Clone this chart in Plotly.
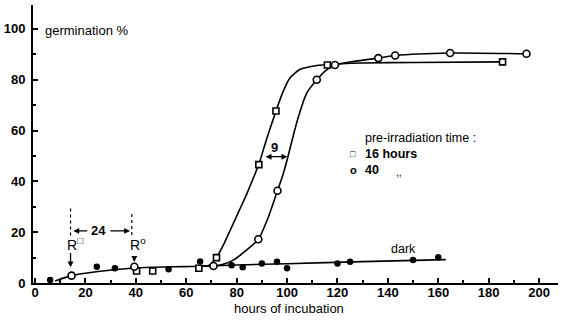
import plotly.graph_objects as go

# ---------------- data ----------------
dark_x = [6, 24.5, 31.7, 53, 65.5, 78, 82.4, 90, 96, 100, 120, 125, 150, 160]
dark_y = [1.2, 6.4, 5.8, 5.4, 8.5, 7, 6.2, 7.7, 8.4, 5.8, 7.7, 8.4, 9.1, 10.1]

sq16_x = [40.3, 46.7, 65, 72, 88.8, 95.6, 116, 185.5]
sq16_y = [4.7, 4.7, 5.8, 10, 46.6, 67.7, 85.8, 87]

c40_x = [14.5, 39.4, 70.8, 88.6, 96.2, 111.8, 119, 136.2, 142.9, 164.7, 195]
c40_y = [2.9, 6.4, 6.7, 17.2, 36.3, 80, 85.8, 88.5, 89.5, 90.5, 90.2]

# hand-drawn curves
base_x = [8, 14.5, 25, 39.4, 47, 55, 62, 66]
base_y = [0.8, 2.9, 4.5, 5.9, 6.2, 6.4, 6.5, 6.6]

dark_line_x = [66, 80, 100, 130, 163]
dark_line_y = [6.6, 7.1, 7.6, 8.4, 9.2]

c16_line_x = [66, 69, 72, 75, 78, 81, 84, 86.5, 88.8, 92, 95.6, 98.5, 101, 105, 110, 116, 130, 150, 185.5]
c16_line_y = [6.6, 6.9, 10, 15.5, 22, 28.5, 35, 41, 46.7, 57, 67.7, 75.5, 80.5, 84, 85.3, 86, 86.6, 86.8, 87]

c40_line_x = [66, 70.8, 75, 78.7, 84, 88.6, 92.6, 96.2, 98.5, 100.3, 103.8, 107.8, 111.8, 115.7, 119, 125, 136.2, 142.9, 164.7, 195]
c40_line_y = [6.6, 6.7, 7.5, 9, 13, 17.2, 26, 36.3, 43, 49.5, 63, 74.7, 80, 83.9, 85.8, 87, 88.5, 89.5, 90.5, 90.2]

x_ticks = [0, 20, 40, 60, 80, 100, 120, 140, 160, 180, 200]
y_ticks = [0, 20, 40, 60, 80, 100]

FONT = "Liberation Sans"
BLACK = "#000000"

fig = go.Figure()

line_style = dict(color=BLACK, width=1.6)
for lx, ly in [(base_x, base_y), (dark_line_x, dark_line_y),
               (c16_line_x, c16_line_y), (c40_line_x, c40_line_y)]:
    fig.add_trace(go.Scatter(x=lx, y=ly, mode="lines", line=dict(shape="spline", smoothing=0.6, **line_style),
                             showlegend=False, hoverinfo="skip", cliponaxis=False))

fig.add_trace(go.Scatter(x=dark_x, y=dark_y, mode="markers", name="dark",
                         marker=dict(symbol="circle", size=6.5, color=BLACK, line=dict(width=0)),
                         showlegend=False, cliponaxis=False))
fig.add_trace(go.Scatter(x=sq16_x, y=sq16_y, mode="markers", name="16 hours",
                         marker=dict(symbol="square", size=6, color="white", line=dict(color=BLACK, width=1.6)),
                         showlegend=False, cliponaxis=False))
fig.add_trace(go.Scatter(x=c40_x, y=c40_y, mode="markers", name="40 hours",
                         marker=dict(symbol="circle", size=7, color="white", line=dict(color=BLACK, width=1.6)),
                         showlegend=False, cliponaxis=False))

ann = []
def txt(x, y, s, size=13, bold=False, xanchor="center", xref="x", yref="y"):
    ann.append(dict(x=x, y=y, xref=xref, yref=yref, text=s, showarrow=False,
                    xanchor=xanchor, yanchor="middle",
                    font=dict(family=FONT, size=size, color=BLACK, weight=700 if bold else 400)))

def arrow(x, y, ax, ay, both=False, width=1.3):
    ann.append(dict(x=x, y=y, ax=ax, ay=ay, xref="x", yref="y", axref="x", ayref="y",
                    text="", showarrow=True, arrowhead=2, arrowsize=0.9, arrowwidth=width,
                    arrowcolor=BLACK, arrowside="end+start" if both else "end", standoff=0, startstandoff=0))

# axis titles
txt(3.2, 99.4, "germination %", size=13, xanchor="left")
txt(100.8, -0.093, "hours of incubation", size=13, yref="paper")

# 9 h shift
arrow(100.1, 49.7, 90.9, 49.7, both=True)
txt(95.2, 53.3, "9", size=13, bold=True)

# 24 h between irradiations
arrow(15.2, 20.5, 21.3, 20.5)
arrow(37.7, 20.5, 29.3, 20.5)
txt(25.2, 20.5, "24", size=13, bold=True)
txt(15.8, 15.2, "R<sup>□</sup>", size=14)
txt(41.0, 15.2, "R<sup>o</sup>", size=14)
arrow(14.1, 6.2, 14.1, 12.4)
arrow(39.4, 8.3, 39.4, 11.0)

# dark label
txt(146, 13.4, "dark", size=12.5)

# legend
txt(130.2, 57.1, "pre-irradiation time :", size=12.5, xanchor="left")
txt(130.2, 50.8, "16 hours", size=12.5, xanchor="left", bold=True)
txt(130.2, 44.5, "40", size=12.5, xanchor="left", bold=True)
txt(144.6, 43.6, ",,", size=10)
txt(126.2, 50.8, "□", size=9)
txt(126.2, 44.5, "o", size=11, bold=True)

shapes = [
    dict(type="line", x0=14.1, x1=14.1, y0=18.7, y1=29.5, xref="x", yref="y",
         line=dict(color=BLACK, width=1.2, dash="dot")),
    dict(type="line", x0=38.4, x1=38.4, y0=18.9, y1=27.6, xref="x", yref="y",
         line=dict(color=BLACK, width=1.2, dash="dot")),
]

tickfont = dict(family=FONT, size=13, color=BLACK, weight=700)
fig.update_layout(
    width=562, height=320,
    margin=dict(l=33, r=4, t=5, b=37),
    paper_bgcolor="white", plot_bgcolor="white",
    annotations=ann, shapes=shapes,
    xaxis=dict(range=[-0.8, 207.5], showline=True, linewidth=2, linecolor=BLACK,
               ticks="inside", ticklen=5, tickwidth=1.5, tickcolor=BLACK,
               tickvals=x_ticks, ticktext=[str(v) for v in x_ticks],
               minor=dict(dtick=10, tick0=0, ticks="inside", ticklen=3, tickwidth=1.5, tickcolor=BLACK),
               showgrid=False, zeroline=False, tickfont=tickfont, ticklabelstandoff=-4),
    yaxis=dict(range=[0, 109.4], showline=True, linewidth=2, linecolor=BLACK,
               ticks="inside", ticklen=5, tickwidth=1.5, tickcolor=BLACK,
               tickvals=y_ticks, ticktext=[str(v) for v in y_ticks],
               minor=dict(dtick=10, tick0=0, ticks="inside", ticklen=3, tickwidth=1.5, tickcolor=BLACK),
               showgrid=False, zeroline=False, tickfont=tickfont, ticklabelstandoff=3),
)

fig.write_html("out.html", config={"displayModeBar": False},
               post_script="document.body.style.margin='0';document.body.style.overflow='hidden';")
